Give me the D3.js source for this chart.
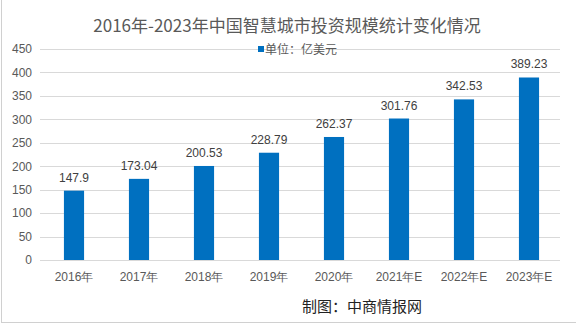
<!DOCTYPE html>
<html><head><meta charset="utf-8">
<script src="https://cdn.jsdelivr.net/npm/d3@7/dist/d3.min.js"></script>
<style>
html,body{margin:0;padding:0;background:#fff;}
svg{display:block;font-family:"Noto Sans CJK SC","Microsoft YaHei",sans-serif;}
</style></head>
<body>
<script>
const categories = ["2016年","2017年","2018年","2019年","2020年","2021年E","2022年E","2023年E"];
const values = [147.9,173.04,200.53,228.79,262.37,301.76,342.53,389.23];
const valueLabels = ["147.9","173.04","200.53","228.79","262.37","301.76","342.53","389.23"];
const yTicks = [0,50,100,150,200,250,300,350,400,450];
const title = "2016年-2023年中国智慧城市投资规模统计变化情况";
const legendLabel = "单位：亿美元";
const source = "制图：中商情报网";

const W = 576, H = 326;
const svg = d3.select("body").append("svg").attr("width", W).attr("height", H);

// frame
svg.append("rect").attr("x",1.5).attr("y",-2).attr("width",W-1).attr("height",324.5)
  .attr("fill","none").attr("stroke","#d0d0d0").attr("stroke-width",1);

const x = d3.scaleBand().domain(categories).range([41.5, 561.5]).paddingInner(0.69).paddingOuter(0.345);
const y = d3.scaleLinear().domain([0,450]).range([260, 49]);

// gridlines
svg.append("g").selectAll("line").data(yTicks).join("line")
  .attr("x1",40).attr("x2",560)
  .attr("y1",d=>Math.round(y(d))+0.5).attr("y2",d=>Math.round(y(d))+0.5)
  .attr("stroke","#d9d9d9").attr("stroke-width",1);

// y axis labels
const yAxis = d3.axisLeft(y).tickValues(yTicks).tickSize(0).tickPadding(0);
const ya = svg.append("g").attr("transform","translate(32,0)").call(yAxis);
ya.select(".domain").remove();
ya.selectAll("text").attr("fill","#595959").style("font-size","12px")
  .style("font-family","'Liberation Sans',Arial,sans-serif");

// bars
svg.append("g").selectAll("rect").data(values).join("rect")
  .attr("x",(d,i)=>x(categories[i]))
  .attr("width",x.bandwidth())
  .attr("y",d=>y(d))
  .attr("height",d=>y(0)-y(d))
  .attr("fill","#0070c0");

// value labels
svg.append("g").selectAll("text").data(values).join("text")
  .attr("x",(d,i)=>x(categories[i])+x.bandwidth()/2)
  .attr("y",d=>y(d)-9)
  .attr("text-anchor","middle")
  .attr("fill","#404040")
  .style("font-size","12px")
  .style("font-family","'Liberation Sans',Arial,sans-serif")
  .text((d,i)=>valueLabels[i]);

// x axis labels
const xAxis = d3.axisBottom(x).tickSize(0).tickPadding(0);
const xa = svg.append("g").attr("transform","translate(0,272)").call(xAxis);
xa.select(".domain").remove();
xa.selectAll("text").attr("fill","#595959").style("font-size","12px").attr("dy","0.71em");

// title
svg.append("text").attr("x",287).attr("y",32).attr("text-anchor","middle")
  .attr("fill","#595959").style("font-size","17px").text(title);

// legend
svg.append("rect").attr("x",258).attr("y",46).attr("width",6).attr("height",6).attr("fill","#0070c0");
svg.append("text").attr("x",265).attr("y",54).attr("fill","#595959").style("font-size","12px").text(legendLabel);

// source
svg.append("text").attr("x",302).attr("y",312).attr("fill","#222").style("font-size","15px").text(source);
</script>
</body></html>
